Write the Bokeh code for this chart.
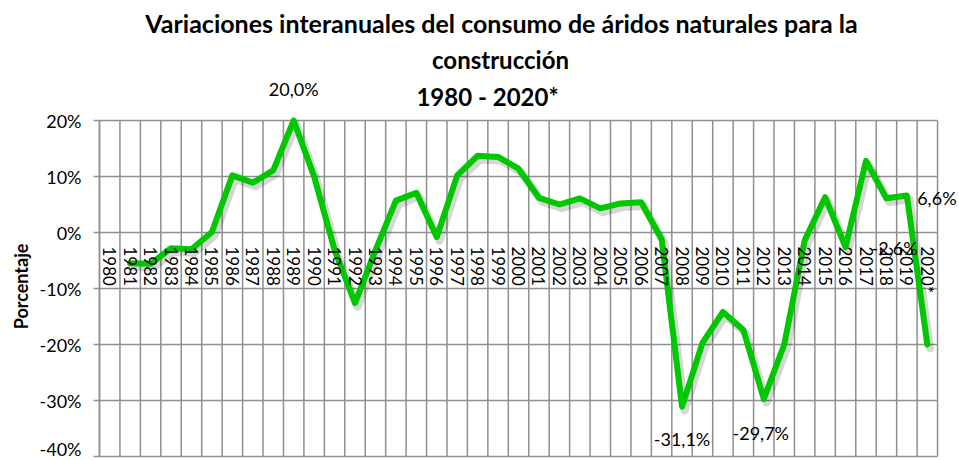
import math
import numpy as np
from bokeh.plotting import figure
from bokeh.models import (Range1d, FixedTicker, PrintfTickFormatter,
                          ColumnDataSource, LabelSet, Label)
from bokeh.core.properties import value
from bokeh.embed import file_html
from bokeh.resources import INLINE

nan = float("nan")

# ---- data ----
years = [str(y) for y in range(1980, 2020)] + ["2020*"]
variation = [nan, -5.5, -5.6, -2.8, -3.0, 0.1, 10.2, 8.9, 11.1, 20.0,
             10.0, -3.1, -12.6, -3.2, 5.7, 7.1, -0.8, 10.2, 13.7, 13.5,
             11.4, 6.2, 5.0, 6.1, 4.3, 5.2, 5.4, -1.2, -31.1, -19.7,
             -14.2, -17.4, -29.7, -20.0, -1.4, 6.3, -2.6, 12.8, 6.1, 6.6,
             -20.0]
labeled_years = ["1989", "2008", "2012", "2016", "2019"]
y_ticks = [-40, -30, -20, -10, 0, 10, 20]

title_lines = ["Variaciones interanuales del consumo de áridos naturales para la",
               "construcción",
               "1980 - 2020*"]
y_label = "Porcentaje"

# ---- layout / style ----
FONT = "Lato"
GRID = "#8f8f8f"
GREEN = "#00C800"

W, H = 958, 459
LEFT = 99           # plot-area left edge (px)
TOP_TICK_PX = 120   # pixel of the top tick
BOTTOM_PX = 456     # pixel of the bottom tick
CAT_PX = 20.44      # width of one category

n = len(years)
xs = np.arange(n) + 0.5
ys = np.array(variation, dtype=float)

y_lo, y_hi = min(y_ticks), max(y_ticks)
px_per_unit = (BOTTOM_PX - TOP_TICK_PX) / (y_hi - y_lo)
y_top = y_hi + TOP_TICK_PX / px_per_unit
y_bot = y_lo - (H - BOTTOM_PX) / px_per_unit
x_start = -LEFT / CAT_PX
x_end = (W - LEFT) / CAT_PX


def px_to_x(px):
    return (px - LEFT) / CAT_PX


def py_to_y(py):
    return y_hi + (TOP_TICK_PX - py) / px_per_unit


p = figure(width=W, height=H,
           x_range=Range1d(x_start, x_end), y_range=Range1d(y_bot, y_top),
           output_backend="svg", toolbar_location=None,
           min_border_left=0, min_border_right=0,
           min_border_top=0, min_border_bottom=0)
p.background_fill_color = "white"
p.border_fill_color = "white"
p.outline_line_color = None
p.grid.visible = False

# plot-area grid (category boundaries and value ticks)
vx = list(range(n + 1))
p.segment(x0=vx, x1=vx, y0=[y_lo] * len(vx), y1=[y_hi] * len(vx),
          line_color=GRID, line_width=1.5)
p.segment(x0=[0] * len(y_ticks), x1=[n] * len(y_ticks), y0=y_ticks, y1=y_ticks,
          line_color=GRID, line_width=1.5)

# y axis, fixed at the left edge of the plot area
yax = p.yaxis[0]
yax.fixed_location = 0
yax.bounds = (y_lo, y_hi)
yax.ticker = FixedTicker(ticks=y_ticks)
yax.formatter = PrintfTickFormatter(format="%d%%")
yax.axis_line_color = GRID
yax.axis_line_width = 1.5
yax.major_tick_line_color = GRID
yax.major_tick_line_width = 1.5
yax.major_tick_out = 6
yax.major_tick_in = 0
yax.minor_tick_line_color = None
yax.major_label_text_font = FONT
yax.major_label_text_font_size = "18px"
yax.major_label_text_color = "black"
yax.major_label_standoff = 12

# y-axis title, centred on the plot area
p.add_layout(Label(x=px_to_x(20), y=py_to_y(286), text=y_label, angle=math.pi / 2,
                   text_font=FONT, text_font_style="bold", text_font_size="18px",
                   text_color="black", text_align="center", text_baseline="middle"))

# x axis crossing at 0, category labels vertical
xax = p.xaxis[0]
xax.fixed_location = 0
xax.ticker = FixedTicker(ticks=list(xs))
xax.major_label_overrides = {float(x): yr for x, yr in zip(xs, years)}
xax.major_label_orientation = "vertical"
xax.axis_line_color = None
xax.major_tick_line_color = None
xax.minor_tick_line_color = None
xax.major_label_text_font = FONT
xax.major_label_text_font_size = "17px"
xax.major_label_text_color = "black"
xax.major_label_standoff = 8

# shadow + line
p.line(xs + 0.13, ys - 0.65, line_color="black", line_alpha=0.16,
       line_width=8, line_join="round", line_cap="round")
p.line(xs, ys, line_color=GREEN, line_width=6, line_join="round", line_cap="round")

# data labels
idx = [years.index(y) for y in labeled_years]
lab_src = ColumnDataSource(dict(
    x=[xs[i] for i in idx],
    y=[ys[i] for i in idx],
    text=[("%.1f%%" % ys[i]).replace(".", ",") for i in idx],
    xo=[0, 0, -3, 49, 30],
    yo=[32, -32, -34, -1, -2],
))
p.add_layout(LabelSet(x="x", y="y", text="text", source=lab_src,
                      x_offset="xo", y_offset="yo",
                      text_font=value(FONT), text_font_size=value("18px"),
                      text_color="black", text_align="center",
                      text_baseline="middle"))

# title (three centred lines)
title_pos = [(501, 22, "25px"), (500, 59, "24px"), (487, 96, "24px")]
for (tx, ty, fs), t in zip(title_pos, title_lines):
    p.add_layout(Label(x=px_to_x(tx), y=py_to_y(ty), text=t,
                       text_font=FONT, text_font_style="bold", text_font_size=fs,
                       text_color="black", text_align="center",
                       text_baseline="middle"))

open("out.html", "w").write(file_html(p, INLINE))
